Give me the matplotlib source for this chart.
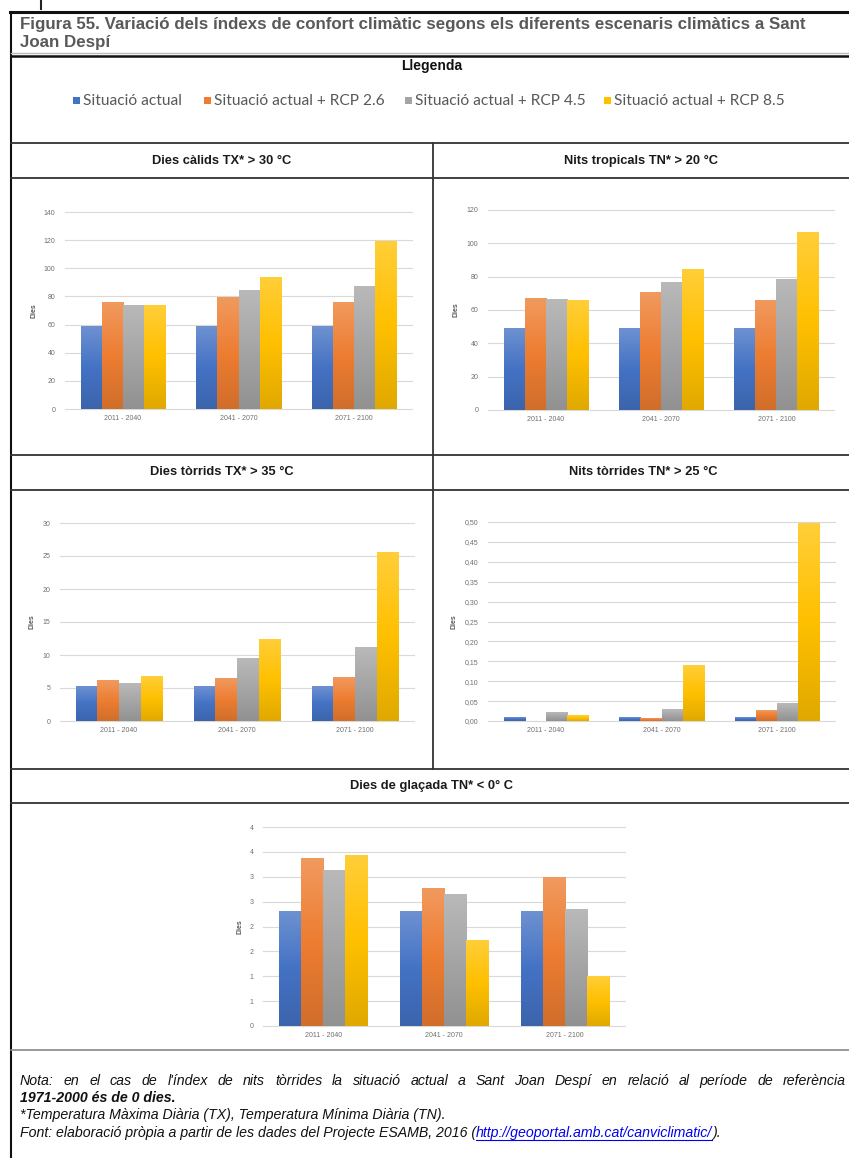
"""Figura 55: índexs de confort climàtic a Sant Joan Despí segons escenaris RCP."""

import numpy as np
import matplotlib
matplotlib.use("Agg")
import matplotlib.pyplot as plt
from matplotlib import font_manager
from matplotlib.colors import to_rgb
from matplotlib.patches import Rectangle

W, H = 849, 1158

PERIODS = ["2011 - 2040", "2041 - 2070", "2071 - 2100"]
SERIES = ["Situació actual", "Situació actual + RCP 2.6",
          "Situació actual + RCP 4.5", "Situació actual + RCP 8.5"]
COLORS = ["#4472C4", "#ED7D31", "#A5A5A5", "#FFC000"]

# one row per series (actual, RCP 2.6, RCP 4.5, RCP 8.5), one value per period
DIES_CALIDS = [[58.5, 58.5, 58.5], [76.0, 79.4, 75.8],
               [73.4, 84.1, 86.8], [73.7, 93.7, 119.3]]
NITS_TROPICALS = [[49.0, 49.0, 49.0], [66.8, 70.4, 66.0],
                  [66.4, 76.4, 78.2], [65.8, 84.2, 106.8]]
DIES_TORRIDS = [[5.2, 5.2, 5.2], [6.1, 6.5, 6.66],
                [5.75, 9.48, 11.14], [6.7, 12.35, 25.47]]
NITS_TORRIDES = [[0.010, 0.010, 0.010], [0.0, 0.0067, 0.0276],
                 [0.0226, 0.0285, 0.045], [0.0126, 0.139, 0.495]]
DIES_GLACADA = [[2.30, 2.30, 2.30], [3.36, 2.77, 2.99],
                [3.13, 2.64, 2.34], [3.43, 1.71, 1.00]]

CALIDS_TICKS = [0, 20, 40, 60, 80, 100, 120, 140]
TROPICALS_TICKS = [0, 20, 40, 60, 80, 100, 120]
TORRIDS_TICKS = [0, 5, 10, 15, 20, 25, 30]
TORRIDES_TICKS = [0, 0.05, 0.10, 0.15, 0.20, 0.25, 0.30, 0.35, 0.40, 0.45, 0.50]
TORRIDES_LABELS = ["0,00", "0,05", "0,10", "0,15", "0,20", "0,25",
                   "0,30", "0,35", "0,40", "0,45", "0,50"]
GLACADA_TICKS = [0, 0.5, 1, 1.5, 2, 2.5, 3, 3.5, 4]
GLACADA_LABELS = ["0", "1", "1", "2", "2", "3", "3", "4", "4"]

HEADERS = ["Dies càlids TX* > 30 °C", "Nits tropicals TN* > 20 °C",
           "Dies tòrrids TX* > 35 °C", "Nits tòrrides TN* > 25 °C",
           "Dies de glaçada TN* < 0° C"]
TITLE = ["Figura 55. Variació dels índexs de confort climàtic segons els diferents escenaris climàtics a Sant",
         "Joan Despí"]
NOTE_1 = ("Nota: en el cas de l'índex de nits tòrrides la situació actual a Sant Joan Despí "
          "en relació al període de referència")
NOTE_2 = "1971-2000 és de 0 dies."
NOTE_3 = "*Temperatura Màxima Diària (TX), Temperatura Mínima Diària (TN)."
NOTE_4 = "Font: elaboració pròpia a partir de les dades del Projecte ESAMB, 2016 ("
LINK = "http://geoportal.amb.cat/canviclimatic/"

names = {f.name for f in font_manager.fontManager.ttflist}
NARROW = "Liberation Sans Narrow" if "Liberation Sans Narrow" in names else "Liberation Sans"
SANS = "Liberation Sans"
LEGEND_FONT = "Lato" if "Lato" in names else "DejaVu Sans"

plt.rcParams["font.family"] = [SANS, "DejaVu Sans"]

fig = plt.figure(figsize=(W / 100, H / 100), dpi=100)
bg = fig.add_axes([0, 0, 1, 1])
bg.set_xlim(0, W)
bg.set_ylim(H, 0)
bg.axis("off")
bg.set_zorder(0)
renderer = fig.canvas.get_renderer()


def width_of(t):
    return t.get_window_extent(renderer).width


def fit_size(text, target, **kw):
    t = bg.text(0, 0, text, fontsize=10, **kw)
    w = width_of(t)
    t.remove()
    return 10 * target / w


# ---- table lines
line_kw = dict(color="#333333", lw=1.3)
bg.plot([41, 41], [0, 9], color="#222222", lw=1.5)
bg.plot([10, W], [12, 12], color="#111111", lw=2.2)
bg.plot([11, 11], [12, H], color="#111111", lw=1.5)
bg.plot([11, W], [53, 53], color="#bbbbbb", lw=1.0)
bg.plot([11, W], [56, 56], color="#111111", lw=1.8)
for y in [143, 178, 455, 490, 769, 803]:
    bg.plot([11, W], [y, y], **line_kw)
bg.plot([11, W], [1050, 1050], color="#888888", lw=1.2)
bg.plot([433, 433], [143, 769], **line_kw)

# ---- title
title_font = [NARROW, "DejaVu Sans"]
ts = 0.95 * fit_size(TITLE[0], 827, fontweight="bold", family=title_font)
for i, line in enumerate(TITLE):
    bg.text(20, 29 + 18 * i, line, fontsize=ts, fontweight="bold", color="#595959",
            family=title_font, va="baseline", ha="left")

# ---- legend
bg.text(432, 66, "Llegenda", fontsize=10, fontweight="bold", color="#111111",
        family=[NARROW, "DejaVu Sans"], ha="center", va="center")
leg_x = [73, 204, 405, 604]
leg_fs = fit_size(SERIES[1], 170, family=[LEGEND_FONT, "DejaVu Sans"])
for x, label, col in zip(leg_x, SERIES, COLORS):
    bg.add_patch(Rectangle((x, 97), 7, 7, facecolor=col, edgecolor="none"))
    bg.text(x + 10, 101, label, fontsize=leg_fs, color="#595959",
            family=[LEGEND_FONT, "DejaVu Sans"], ha="left", va="center")

# ---- section headers
header_pos = [(222, 161), (641, 161), (222, 472), (643, 472), (432, 786)]
for (x, y), txt in zip(header_pos, HEADERS):
    bg.text(x, y, txt, fontsize=9.3, fontweight="bold", color="#1a1a1a",
            ha="center", va="center")


def shade(col, f):
    r = np.array(to_rgb(col))
    return r + (1 - r) * f if f > 0 else r * (1 + f)


def gradient(col):
    top, mid, bot = shade(col, 0.22), shade(col, 0.0), shade(col, -0.12)
    s = np.linspace(0, 1, 64)[:, None]
    g = np.where(s < 0.5, top + (mid - top) * (s / 0.5), mid + (bot - mid) * ((s - 0.5) / 0.5))
    return g[:, None, :]


def draw_chart(x0, x1, ytop, ybot, series, ticks, labels, label_x):
    ax = fig.add_axes([x0 / W, 1 - ybot / H, (x1 - x0) / W, (ybot - ytop) / H])
    ax.set_zorder(1)
    ax.patch.set_alpha(0)
    x = np.arange(len(PERIODS))
    bw = 0.73 / len(series)
    for i, (vals, col) in enumerate(zip(series, COLORS)):
        bars = ax.bar(x + (i - 1.5) * bw, vals, bw, color="none", edgecolor="none")
        img = gradient(col)
        for b in bars:
            h = b.get_height()
            if h <= 0:
                continue
            ax.imshow(img, extent=[b.get_x(), b.get_x() + b.get_width(), 0, h],
                      aspect="auto", interpolation="bilinear", zorder=2)
    ax.set_xlim(-0.5, 2.5)
    ax.set_ylim(ticks[0], ticks[-1])
    ax.set_yticks(ticks, labels)
    ax.set_xticks(x, PERIODS)
    ax.tick_params(length=0, labelsize=5, labelcolor="#6f6f6f")
    ax.tick_params(axis="y", pad=7)
    ax.tick_params(axis="x", pad=4)
    ax.yaxis.grid(True, color="#D9D9D9", lw=0.8)
    ax.set_axisbelow(True)
    for ln in ax.get_ygridlines():
        ln.set_clip_on(False)
    for sp in ax.spines.values():
        sp.set_visible(False)
    ax.set_ylabel("Dies", fontsize=5, fontweight="bold", color="#595959")
    ax.yaxis.set_label_coords((label_x - x0) / (x1 - x0), 0.5)
    return ax


draw_chart(65, 412, 212, 409, DIES_CALIDS, CALIDS_TICKS, [str(t) for t in CALIDS_TICKS], 38)
draw_chart(488, 834, 210, 410, NITS_TROPICALS, TROPICALS_TICKS,
           [str(t) for t in TROPICALS_TICKS], 460)
draw_chart(60, 414, 523, 721, DIES_TORRIDS, TORRIDS_TICKS, [str(t) for t in TORRIDS_TICKS], 36)
draw_chart(488, 835, 522, 721, NITS_TORRIDES, TORRIDES_TICKS, TORRIDES_LABELS, 458)
draw_chart(263, 625, 827, 1026, DIES_GLACADA, GLACADA_TICKS, GLACADA_LABELS, 244)

# ---- footnotes
note_font = [NARROW, "DejaVu Sans"]
fs = 0.95 * fit_size(NOTE_3, 447, style="italic", family=note_font)
note_kw = dict(fontsize=fs, style="italic", family=note_font, color="#111111", va="center")

# first line justified between x=20 and x=846
words = NOTE_1.split(" ")
arts = [bg.text(0, 1081, w, **note_kw) for w in words]
widths = [width_of(a) for a in arts]
gap = (846 - 20 - sum(widths)) / (len(words) - 1)
xx = 20
for a, w in zip(arts, widths):
    a.set_x(xx)
    xx += w + gap

bg.text(20, 1098, NOTE_2, fontweight="bold", **note_kw)
bg.text(20, 1115, NOTE_3, **note_kw)
t4 = bg.text(20, 1133, NOTE_4, **note_kw)
lx = 20 + width_of(t4)
tl = bg.text(lx, 1133, LINK, **{**note_kw, "color": "#0000ee"})
lw_ = width_of(tl)
bg.plot([lx, lx + lw_], [1140, 1140], color="#0000ee", lw=0.8)
bg.text(lx + lw_, 1133, ").", **note_kw)

fig.savefig("out.png", dpi=100)
